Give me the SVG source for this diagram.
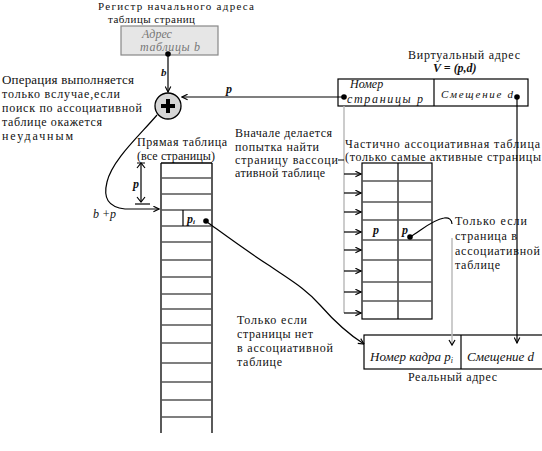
<svg xmlns="http://www.w3.org/2000/svg" width="542" height="451" viewBox="0 0 542 451">
<defs>
<style>
text{font-family:"Liberation Serif","DejaVu Serif",serif;fill:#111}
.t11{font-size:11px}
.t12{font-size:12px}
.t13{font-size:13px}
.it{font-style:italic}
.bi{font-style:italic;font-weight:bold}
.ln{stroke:#000;stroke-width:1.2;fill:none}
.gl{stroke:#bbb;stroke-width:1.5;fill:none}
.row{stroke:#555;stroke-width:1.3}
</style>
<marker id="ah" viewBox="0 0 10 10" refX="9" refY="5" markerWidth="7" markerHeight="7" orient="auto" markerUnits="userSpaceOnUse">
<path d="M1,1 L9,5 L1,9" fill="none" stroke="#000" stroke-width="1.6"/>
</marker>
</defs>
<rect width="542" height="451" fill="#fff"/>

<g id="register">
<text class="t11" x="98" y="10" textLength="156">Регистр начального адреса</text>
<text class="t11" x="108" y="23" textLength="87">таблицы страниц</text>
<rect x="121" y="26" width="97" height="29" fill="#e6e6e6" stroke="#888" stroke-width="1.2"/>
<text class="t12 it" x="142" y="38" style="fill:#777">Адрес</text>
<text class="t12 it" x="140" y="51" style="fill:#777" textLength="60">таблицы b</text>
<circle cx="168" cy="54" r="2.8" fill="#000"/>
</g>

<g id="adder">
<circle cx="168" cy="106" r="13" fill="#d6d6d6" stroke="#000" stroke-width="1.3"/>
<path d="M168,99 V113 M161,106 H175" stroke="#000" stroke-width="4"/>
</g>

<g id="note-op">
<text class="t13" x="2" y="84" textLength="132">Операция выполняется</text>
<text class="t12" x="2" y="98" textLength="118">только вслучае,если</text>
<text class="t12" x="2" y="112" textLength="140">поиск по ассоциативной</text>
<text class="t12" x="2" y="126" textLength="100">таблице окажется</text>
<text class="t12" x="2" y="140" textLength="71">неудачным</text>
</g>

<g id="vaddr">
<text class="t12" x="408" y="59" textLength="112">Виртуальный адрес</text>
<text class="t12 bi" x="433" y="72">V = (p,d)</text>
<rect x="338" y="79" width="190" height="27" fill="#fff" stroke="#000" stroke-width="1.2"/>
<line x1="434" y1="79" x2="434" y2="106" stroke="#000" stroke-width="1.2"/>
<text class="t12 it" x="350" y="88">Номер</text>
<text class="t12 it" x="347" y="103" textLength="76">страницы p</text>
<text class="t11 it" x="441" y="98" textLength="72">Смещение d</text>
<circle cx="344" cy="97" r="2.8" fill="#000"/>
<circle cx="517" cy="97" r="2.8" fill="#000"/>
</g>

<g id="direct-table">
<text class="t12" x="137" y="146" textLength="90">Прямая таблица</text>
<text class="t12" x="137" y="160" textLength="78">(все страницы)</text>
<line x1="161" y1="163" x2="161" y2="433" stroke="#000" stroke-width="1.3"/>
<line x1="212" y1="163" x2="212" y2="433" stroke="#000" stroke-width="1.3"/>
<line x1="161" y1="163" x2="212" y2="163" stroke="#000" stroke-width="1.3"/>
<g class="row">
<line x1="161" y1="178" x2="212" y2="178"/>
<line x1="161" y1="194" x2="212" y2="194"/>
<line x1="161" y1="210" x2="212" y2="210"/>
<line x1="161" y1="226" x2="212" y2="226"/>
<line x1="161" y1="242" x2="212" y2="242"/>
<line x1="161" y1="260" x2="212" y2="260"/>
<line x1="161" y1="277" x2="212" y2="277"/>
<line x1="161" y1="294" x2="212" y2="294"/>
<line x1="161" y1="309" x2="212" y2="309"/>
<line x1="161" y1="325" x2="212" y2="325"/>
<line x1="161" y1="343" x2="212" y2="343"/>
<line x1="161" y1="363" x2="212" y2="363"/>
<line x1="161" y1="382" x2="212" y2="382"/>
<line x1="161" y1="400" x2="212" y2="400"/>
<line x1="161" y1="417" x2="212" y2="417"/>
</g>
<line x1="183" y1="210" x2="183" y2="226" stroke="#000" stroke-width="1.2"/>
<text class="t12 bi" x="187" y="223">p<tspan font-size="7" dy="1">i</tspan></text>
<circle cx="206" cy="221" r="2.8" fill="#000"/>
</g>

<g id="note-first">
<text class="t12" x="235" y="137" textLength="97">Вначале делается</text>
<text class="t12" x="235" y="151" textLength="84">попытка найти</text>
<text class="t12" x="235" y="164" textLength="103">страницу вассоци</text>
<text class="t12" x="235" y="177" textLength="90">ативной таблице</text>
</g>

<g id="assoc-table">
<text class="t12" x="345" y="148" textLength="195">Частично ассоциативная таблица</text>
<text class="t12" x="345" y="161" textLength="196">(только самые активные страницы</text>
<rect x="362" y="163" width="70" height="156" fill="#fff" stroke="#000" stroke-width="1.2"/>
<line x1="398" y1="163" x2="398" y2="319" stroke="#000" stroke-width="1.2"/>
<g class="row">
<line x1="362" y1="181" x2="432" y2="181"/>
<line x1="362" y1="202" x2="432" y2="202"/>
<line x1="362" y1="220" x2="432" y2="220"/>
<line x1="362" y1="240" x2="432" y2="240"/>
<line x1="362" y1="260" x2="432" y2="260"/>
<line x1="362" y1="282" x2="432" y2="282"/>
<line x1="362" y1="301" x2="432" y2="301"/>
</g>
<text class="t12 bi" x="373" y="234">p</text>
<text class="t12 bi" x="402" y="234">p</text>
<circle cx="410" cy="237" r="2.8" fill="#000"/>
</g>

<g id="note-assoc">
<text class="t12" x="455" y="225" textLength="72">Только если</text>
<text class="t12" x="455" y="240" textLength="62">страница в</text>
<text class="t12" x="455" y="255" textLength="85">ассоциативной</text>
<text class="t12" x="455" y="269" textLength="45">таблице</text>
</g>

<g id="note-noassoc">
<text class="t12" x="237" y="324" textLength="70">Только если</text>
<text class="t12" x="237" y="338" textLength="76">страницы нет</text>
<text class="t12" x="237" y="352" textLength="96">в  ассоциативной</text>
<text class="t12" x="237" y="366" textLength="45">таблице</text>
</g>

<g id="raddr">
<rect x="364" y="335" width="180" height="34" fill="#fff" stroke="#000" stroke-width="1.2"/>
<line x1="461" y1="335" x2="461" y2="369" stroke="#000" stroke-width="1.2"/>
<text class="t13 it" x="370" y="361">Номер кадра p<tspan font-size="8" dy="2">i</tspan></text>
<text class="t13 it" x="467" y="361">Смещение d</text>
<text class="t12" x="408" y="381" textLength="89">Реальный адрес</text>
</g>

<g id="connectors">
<line class="ln" x1="168" y1="56" x2="168" y2="92" marker-end="url(#ah)"/>
<text class="t11 bi" x="161" y="76">b</text>
<line class="ln" x1="344" y1="97" x2="182" y2="97" marker-end="url(#ah)"/>
<text class="t12 bi" x="226" y="93">p</text>
<path class="ln" d="M157,115 C140,135 112,160 107,182 C103,198 108,207 125,209 L159,209" marker-end="url(#ah)"/>
<text class="t12 it" x="93" y="218">b +p</text>
<line class="ln" x1="141" y1="164" x2="141" y2="202"/>
<path class="ln" d="M137,168 L141,163 L145,168 M137,197 L141,202 L145,197"/>
<line x1="137" y1="163" x2="145" y2="163" stroke="#000" stroke-width="1"/>
<line x1="135" y1="204" x2="150" y2="204" stroke="#000" stroke-width="1.2"/>
<text class="t12 bi" x="133" y="188">p</text>
<line class="gl" x1="344" y1="106" x2="344" y2="313"/>
<line x1="338" y1="160" x2="344" y2="160" stroke="#000" stroke-width="1"/>
<line class="ln" x1="344" y1="174" x2="361" y2="174" marker-end="url(#ah)"/>
<line class="ln" x1="344" y1="193" x2="361" y2="193" marker-end="url(#ah)"/>
<line class="ln" x1="344" y1="212" x2="361" y2="212" marker-end="url(#ah)"/>
<line class="ln" x1="344" y1="232" x2="361" y2="232" marker-end="url(#ah)"/>
<line class="ln" x1="344" y1="250" x2="361" y2="250" marker-end="url(#ah)"/>
<line class="ln" x1="344" y1="271" x2="361" y2="271" marker-end="url(#ah)"/>
<line class="ln" x1="344" y1="292" x2="361" y2="292" marker-end="url(#ah)"/>
<line class="ln" x1="344" y1="313" x2="361" y2="313" marker-end="url(#ah)"/>
<line class="ln" x1="517" y1="99" x2="517" y2="343" marker-end="url(#ah)"/>
<path class="ln" d="M410,237 C422,230 432,220 444,218 C449,217 452,220 452,224"/>
<line class="gl" x1="452" y1="238" x2="452" y2="344"/>
<path class="ln" d="M449,340 L452,345 L455,340"/>
<path class="ln" d="M207,222 C225,235 245,250 270,266 C290,280 305,288 320,305 C335,322 348,334 364,344" marker-end="url(#ah)"/>
</g>
</svg>
